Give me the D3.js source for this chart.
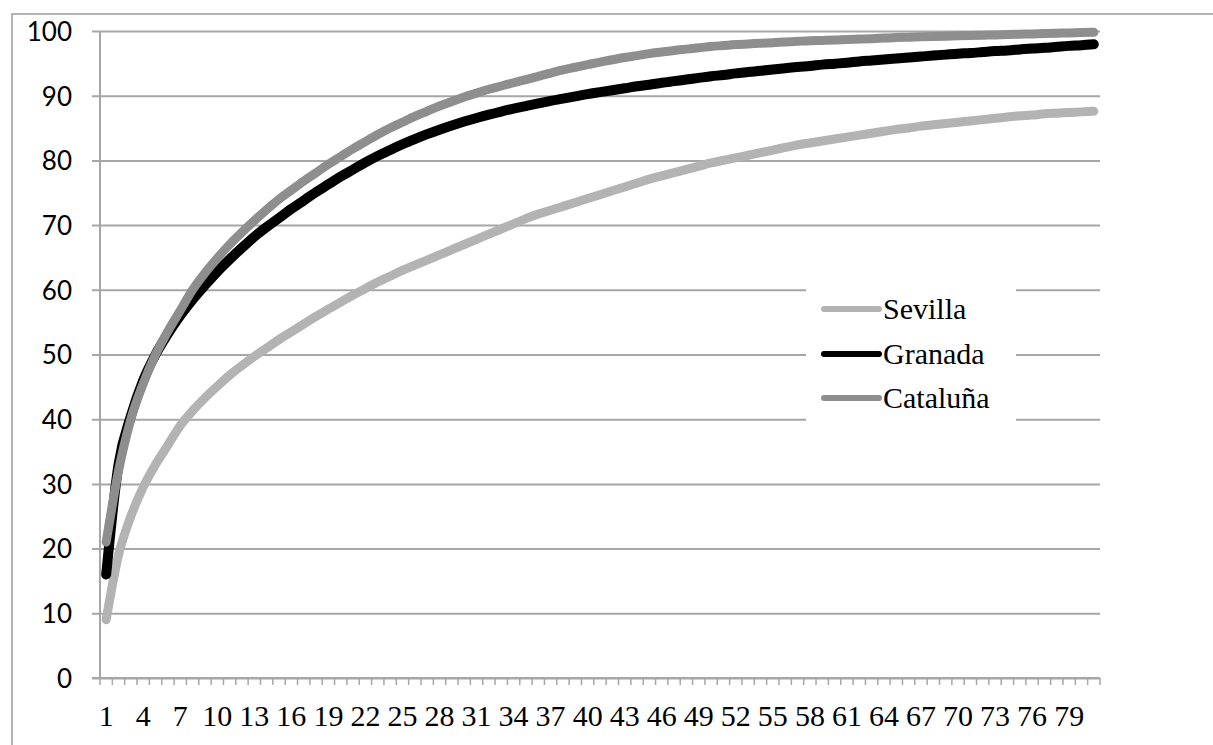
<!DOCTYPE html>
<html>
<head>
<meta charset="utf-8">
<script src="https://cdn.jsdelivr.net/npm/d3@7"></script>
<style>
  body { margin: 0; background: #fff; }
</style>
</head>
<body>
<div id="chart"></div>
<script>
// categories 1..81
const categories = d3.range(1, 82);

const seriesNames = ["Sevilla", "Granada", "Cataluña"];

const sevilla = [9, 19, 25, 29.5, 33, 36, 39, 41.3, 43.3, 45.1,
  46.8, 48.3, 49.7, 51, 52.3, 53.5, 54.7, 55.9, 57, 58.1,
  59.2, 60.2, 61.2, 62.1, 63, 63.8, 64.6, 65.4, 66.2, 67,
  67.8, 68.6, 69.4, 70.2, 71, 71.7, 72.3, 72.9, 73.5, 74.1,
  74.7, 75.3, 75.9, 76.5, 77.1, 77.6, 78.1, 78.6, 79.1, 79.6,
  80, 80.4, 80.8, 81.2, 81.6, 82, 82.4, 82.7, 83, 83.3,
  83.6, 83.9, 84.2, 84.5, 84.8, 85, 85.3, 85.5, 85.7, 85.9,
  86.1, 86.3, 86.5, 86.7, 86.9, 87, 87.2, 87.3, 87.4, 87.5, 87.6];

const granada = [16, 33, 40.5, 46, 50, 53.2, 56, 58.5, 60.7, 62.8,
  64.7, 66.5, 68.2, 69.7, 71.1, 72.5, 73.8, 75.1, 76.3, 77.5,
  78.6, 79.7, 80.7, 81.6, 82.5, 83.3, 84.05, 84.75, 85.4, 86,
  86.55, 87.07, 87.55, 88, 88.4, 88.8, 89.2, 89.55, 89.9, 90.25,
  90.55, 90.85, 91.15, 91.45, 91.7, 92, 92.25, 92.5, 92.75, 93,
  93.2, 93.45, 93.65, 93.85, 94.05, 94.25, 94.45, 94.6, 94.8, 94.95,
  95.1, 95.3, 95.45, 95.6, 95.75, 95.9, 96.05, 96.2, 96.35, 96.5,
  96.6, 96.75, 96.9, 97, 97.15, 97.3, 97.4, 97.55, 97.7, 97.8, 97.95];

const cataluna = [21, 32, 40, 45.5, 50, 53.6, 56.8, 60, 62.6, 64.9,
  67, 68.9, 70.7, 72.4, 74, 75.4, 76.8, 78.1, 79.4, 80.6,
  81.8, 82.9, 84, 85, 85.9, 86.8, 87.6, 88.4, 89.1, 89.8,
  90.4, 91, 91.5, 92, 92.5, 93, 93.5, 94, 94.4, 94.8,
  95.2, 95.55, 95.9, 96.2, 96.5, 96.75, 97, 97.2, 97.4, 97.6,
  97.75, 97.9, 98, 98.1, 98.2, 98.3, 98.4, 98.5, 98.55, 98.6,
  98.7, 98.75, 98.8, 98.9, 99, 99.05, 99.1, 99.15, 99.2, 99.25,
  99.3, 99.35, 99.4, 99.45, 99.5, 99.55, 99.6, 99.65, 99.7, 99.75, 99.8];

const yTicks = [0, 10, 20, 30, 40, 50, 60, 70, 80, 90, 100];
const xTickLabels = categories.filter((d) => (d - 1) % 3 === 0);

const width = 1213;
const height = 745;
const margin = { top: 31, right: 113, bottom: 67, left: 100 };
const innerW = width - margin.left - margin.right;
const innerH = height - margin.top - margin.bottom;

const svg = d3
  .select("#chart")
  .append("svg")
  .attr("width", width)
  .attr("height", height);

// outer frame (top + left edges visible)
svg.append("path")
  .attr("d", `M12,${height} L12,14 L${width},14`)
  .attr("fill", "none")
  .attr("stroke", "#b4b4b4")
  .attr("stroke-width", 2);

const g = svg.append("g").attr("transform", `translate(${margin.left},${margin.top})`);

const x = d3.scaleBand().domain(categories).range([0, innerW]);
const y = d3.scaleLinear().domain([0, 100]).range([innerH, 0]);

// horizontal grid lines with the small outer tick
const yAxis = g.append("g")
  .attr("transform", "translate(-8,0)")
  .call(d3.axisLeft(y).tickValues(yTicks).tickSize(0).tickFormat(d3.format("d")));
yAxis.select(".domain").remove();
yAxis.selectAll(".tick line")
  .attr("x1", 0)
  .attr("x2", innerW + 8)
  .attr("stroke", "#a6a6a6")
  .attr("stroke-width", 2);
yAxis.selectAll(".tick text")
  .attr("x", -20)
  .attr("dy", "0.36em")
  .attr("font-family", "Lato, 'Liberation Sans', sans-serif")
  .attr("font-size", 26)
  .attr("fill", "#000");

// y axis line
g.append("line")
  .attr("x1", 0).attr("x2", 0)
  .attr("y1", 0).attr("y2", innerH)
  .attr("stroke", "#a6a6a6")
  .attr("stroke-width", 2);

// x axis with a minor tick at every category boundary
g.append("line")
  .attr("x1", -8).attr("x2", innerW)
  .attr("y1", innerH).attr("y2", innerH)
  .attr("stroke", "#a6a6a6")
  .attr("stroke-width", 2);

const bounds = categories.map((d) => x(d)).concat([innerW]);
g.append("g")
  .selectAll("line")
  .data(bounds)
  .join("line")
  .attr("x1", (d) => d).attr("x2", (d) => d)
  .attr("y1", innerH).attr("y2", innerH + 7)
  .attr("stroke", "#a6a6a6")
  .attr("stroke-width", 1.5);

const xAxis = g.append("g")
  .attr("transform", `translate(0,${innerH})`)
  .call(d3.axisBottom(x).tickValues(xTickLabels).tickSize(0).tickPadding(27));
xAxis.select(".domain").remove();
xAxis.selectAll(".tick text")
  .attr("font-family", "'Liberation Serif', 'Times New Roman', serif")
  .attr("font-size", 30)
  .attr("fill", "#000");

// lines
const lineData = [
  { name: seriesNames[0], values: sevilla, color: "#b3b3b3", w: 9 },
  { name: seriesNames[1], values: granada, color: "#000000", w: 10 },
  { name: seriesNames[2], values: cataluna, color: "#8e8e8e", w: 9 },
];

const line = d3
  .line()
  .curve(d3.curveMonotoneX)
  .x((d, i) => x(categories[i]) + x.bandwidth() / 2)
  .y((d) => y(d));

g.selectAll(".series")
  .data(lineData)
  .join("path")
  .attr("class", "series")
  .attr("fill", "none")
  .attr("stroke", (d) => d.color)
  .attr("stroke-width", (d) => d.w)
  .attr("stroke-linecap", "round")
  .attr("stroke-linejoin", "round")
  .attr("d", (d) => line(d.values));

// legend
const legend = svg.append("g");
legend.append("rect")
  .attr("x", 806).attr("y", 272)
  .attr("width", 210).attr("height", 150)
  .attr("fill", "#fff");

const legendY = [309, 354, 398];
lineData.forEach((d, i) => {
  legend.append("line")
    .attr("x1", 824).attr("x2", 879)
    .attr("y1", legendY[i]).attr("y2", legendY[i])
    .attr("stroke", d.color)
    .attr("stroke-width", 6)
    .attr("stroke-linecap", "round");
  legend.append("text")
    .attr("x", 883)
    .attr("y", legendY[i] + 10)
    .attr("font-family", "'Liberation Serif', 'Times New Roman', serif")
    .attr("font-size", 30)
    .attr("fill", "#000")
    .text(d.name);
});
</script>
</body>
</html>
